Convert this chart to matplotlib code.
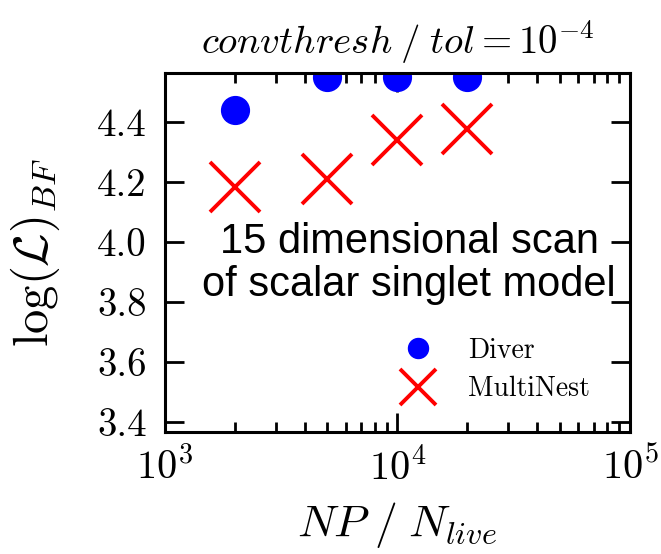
import matplotlib
matplotlib.use("Agg")
import matplotlib.pyplot as plt

plt.rcParams['font.family'] = 'serif'
plt.rcParams['font.serif'] = ['cmr10']
plt.rcParams['mathtext.fontset'] = 'cm'
plt.rcParams['axes.formatter.use_mathtext'] = True

np_live = [2000, 5000, 10000, 20000]
diver = [4.44, 4.55, 4.55, 4.55]
multinest = [4.183, 4.208, 4.339, 4.375]
yticks = [3.4, 3.6, 3.8, 4.0, 4.2, 4.4]

fig = plt.figure(figsize=(6.61, 5.54), dpi=100)
ax = fig.add_axes([0.2496, 0.2202, 0.7034, 0.648])

ax.plot(np_live, diver, 'o', color='blue', markersize=20, label='Diver')
ax.plot(np_live, multinest, 'x', color='red', markersize=36, markeredgewidth=2.8,
        label='MultiNest')

ax.set_xscale('log')
ax.set_xlim(1e3, 1e5)
ax.set_ylim(3.366, 4.562)
ax.set_yticks(yticks)
ax.set_yticklabels(['%.1f' % t for t in yticks])

ax.tick_params(which='both', direction='in', top=True, right=True, width=2)
ax.tick_params(which='major', length=14)
ax.tick_params(which='minor', length=7)
ax.tick_params(axis='y', labelsize=28, pad=13)
ax.tick_params(axis='x', labelsize=29, pad=11)
for s in ax.spines.values():
    s.set_linewidth(2.2)

ax.set_xlabel(r'$NP\;/\;N_{live}$', fontsize=33)
ax.xaxis.set_label_coords(0.5, -0.19)
ax.set_ylabel(r'$\log(\mathcal{L})_{BF}$', fontsize=35)
ax.yaxis.set_label_coords(-0.222, 0.5)
ax.set_title(r'$convthresh\;/\;tol = 10^{-4}$', fontsize=28, pad=14)

ax.text(0.525, 0.47, '15 dimensional scan\nof scalar singlet model',
        transform=ax.transAxes, ha='center', va='center', fontsize=30,
        family='Liberation Sans', linespacing=1.1)

ax.legend(loc='upper left', bbox_to_anchor=(0.467, 0.295), borderaxespad=0,
          frameon=False, fontsize=20, markerscale=0.72,
          handlelength=1.8, handletextpad=0.9, labelspacing=0.45)

fig.savefig('out.png', dpi=100)
